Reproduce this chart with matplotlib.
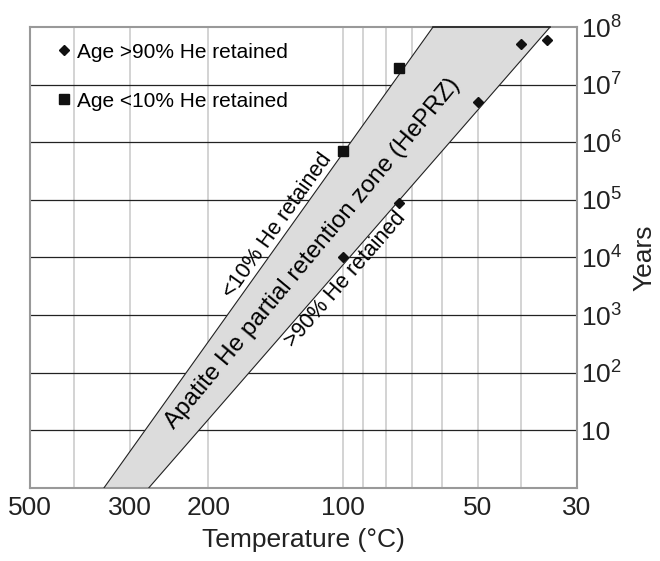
import matplotlib
matplotlib.use("Agg")
import matplotlib.pyplot as plt
from matplotlib.ticker import FixedLocator, FixedFormatter, NullLocator

plt.rcParams['font.family'] = ['Liberation Sans', 'DejaVu Sans']
plt.rcParams['mathtext.fontset'] = 'custom'
plt.rcParams['mathtext.rm'] = 'Liberation Sans'
plt.rcParams['mathtext.it'] = 'Liberation Sans:italic'

# measured ages (years) vs temperature (deg C)
hot_T = [100, 75, 50, 40, 35]            # age >90% He retained
hot_age = [1e4, 9e4, 5e6, 5.2e7, 6e7]
cold_T = [100, 75]                       # age <10% He retained
cold_age = [7e5, 2e7]

# HePRZ band edges: (temperature, years) at the ends
edge10_T = [342, 63]
edge90_T = [271.5, 34.5]
edge_age = [1, 1e8]

xticks = [500, 300, 200, 100, 50, 30]
xgrid = [400, 300, 200, 100, 90, 80, 70, 60, 50, 40]
yticks = [1e1, 1e2, 1e3, 1e4, 1e5, 1e6, 1e7, 1e8]
ylabels = ['10', '$10^2$', '$10^3$', '$10^4$', '$10^5$', '$10^6$', '$10^7$', '$10^8$']

fig = plt.figure(figsize=(6.6, 5.61), dpi=100)
ax = fig.add_axes([0.0459, 0.1307, 0.8283, 0.8206])
ax.set_xscale('log')
ax.set_yscale('log')
ax.set_xlim(500, 30)
ax.set_ylim(1, 1e8)

for t in xgrid:
    ax.axvline(t, color='#cccccc', lw=1.2, zorder=0)
for y in yticks[:-1]:
    ax.axhline(y, color='#222222', lw=0.9, zorder=1)

# band
ax.fill(edge10_T + edge90_T[::-1], edge_age + edge_age[::-1],
        facecolor='#dcdcdc', edgecolor='none', zorder=2)
ax.plot(edge10_T, edge_age, color='#222222', lw=0.8, zorder=3)
ax.plot(edge90_T, edge_age, color='#222222', lw=0.8, zorder=3)
ax.plot([edge10_T[1], edge90_T[1]], [edge_age[1]] * 2, color='#222222', lw=1.2,
        zorder=3, clip_on=False)

h1, = ax.plot(hot_T, hot_age, 'D', color='#111111', ms=5.5, ls='none', zorder=4,
              label='Age >90% He retained')
h2, = ax.plot(cold_T, cold_age, 's', color='#111111', ms=7, ls='none', zorder=4,
              label='Age <10% He retained')

leg = ax.legend(handles=[h1, h2], loc='upper left', bbox_to_anchor=(0.035, 0.985),
                frameon=False, fontsize=15, handlelength=0.6, handletextpad=0.3,
                labelspacing=1.45, borderaxespad=0)

ax.text(114, 1.0e4, 'Apatite He partial retention zone (HePRZ)', fontsize=17.5,
        rotation=50.3, ha='center', va='baseline', rotation_mode='anchor', zorder=5)
ax.text(133.7, 2.75e4, '<10% He retained', fontsize=15.5, rotation=54.5,
        ha='center', va='bottom', rotation_mode='anchor', zorder=5)
ax.text(103, 5.5e3, '>90% He retained', fontsize=15.5, rotation=48.9,
        ha='center', va='top', rotation_mode='anchor', zorder=5)

ax.xaxis.set_major_locator(FixedLocator(xticks))
ax.xaxis.set_major_formatter(FixedFormatter([str(t) for t in xticks]))
ax.xaxis.set_minor_locator(NullLocator())
ax.yaxis.set_major_locator(FixedLocator(yticks))
ax.yaxis.set_major_formatter(FixedFormatter(ylabels))
ax.yaxis.set_minor_locator(NullLocator())
ax.yaxis.tick_right()
ax.yaxis.set_label_position('right')
ax.tick_params(axis='x', length=0, pad=6, labelsize=19, colors='#222222')
ax.tick_params(axis='y', length=0, pad=3, labelsize=19, colors='#222222')

for s in ax.spines.values():
    s.set_color('#999999')
    s.set_linewidth(1.5)

ax.set_xlabel('Temperature (°C)', fontsize=19, color='#222222', labelpad=6)
ax.set_ylabel('Years', fontsize=19, color='#222222', labelpad=7)

fig.savefig('out.png', dpi=100)
